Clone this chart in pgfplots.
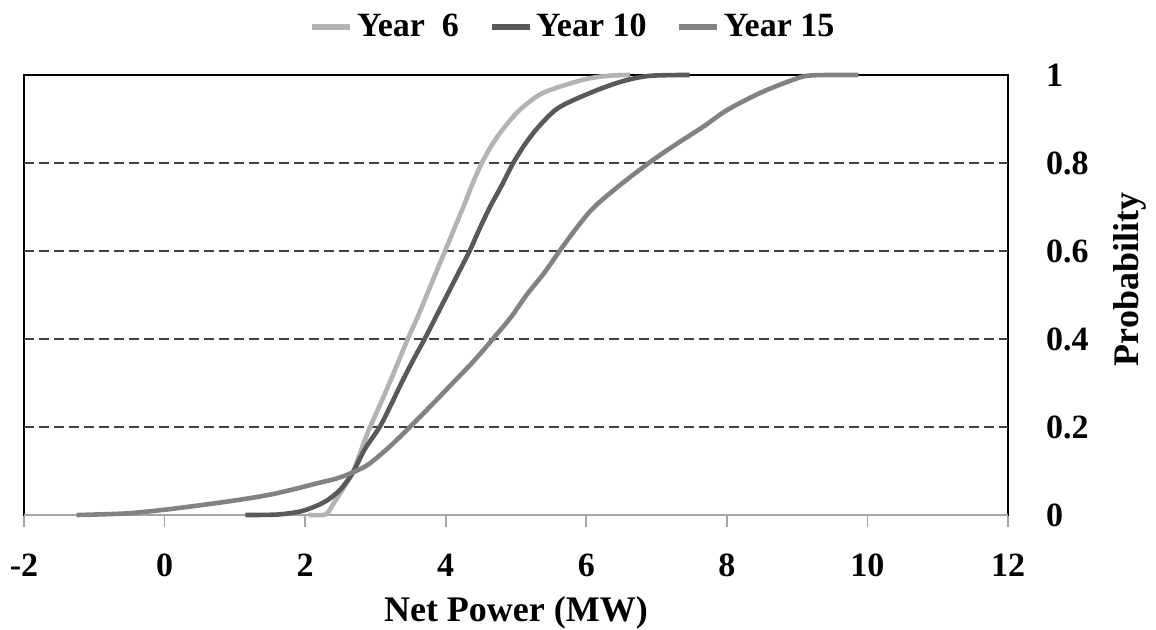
\documentclass[border=0pt]{standalone}
\usepackage{fontspec}
\setmainfont{Liberation Serif}
\usepackage{pgfplots}
\pgfplotsset{compat=1.18}
\definecolor{cY6}{HTML}{B3B3B3}
\definecolor{cY10}{HTML}{595959}
\definecolor{cY15}{HTML}{828282}
\definecolor{gridc}{HTML}{404040}
\begin{document}
\begin{tikzpicture}
\useasboundingbox (-12pt,-57.5pt) rectangle (566pt,257.5pt);
\begin{axis}[
  at={(0pt,0pt)}, anchor=south west,
  scale only axis, width=492pt, height=220pt,
  xmin=-2, xmax=12, ymin=0, ymax=1,
  clip=false,
  xtick={-2,0,2,4,6,8,10,12},
  xticklabels={-2,0,2,4,6,8,10,12},
  ytick={0,0.2,0.4,0.6,0.8,1},
  yticklabels={0,0.2,0.4,0.6,0.8,1},
  yticklabel pos=right,
  xtick pos=lower,
  tick align=outside,
  major tick length=6pt,
  xtick style={color=gray!70, line width=0.8pt},
  ytick style={draw=none},
  extra y ticks={0.2,0.4,0.6,0.8},
  extra y tick labels={},
  extra y tick style={grid=major, major grid style={color=gridc, line width=0.6pt, dash pattern=on 5pt off 2.5pt}, tick style={draw=none}},
  axis line style={line width=0.6pt, black},
  tick label style={font=\fontsize{17}{20}\selectfont\bfseries},
  xticklabel style={yshift=-10pt},
  yticklabel style={anchor=west, xshift=9.5pt},
  xlabel={Net Power (MW)},
  xlabel style={at={(rel axis cs:0.5,-0.223)}, anchor=center, font=\fontsize{18}{21}\selectfont\bfseries},
  ylabel={Probability},
  ylabel style={at={(rel axis cs:1.124,0.535)}, anchor=center, font=\fontsize{18}{21}\selectfont\bfseries},
  legend style={draw=none, fill=none, at={(0.559,1.109)}, anchor=center,
    font=\fontsize{17}{20}\selectfont\bfseries,
    /tikz/every even column/.append style={column sep=13pt}},
  legend columns=3,
  legend image code/.code={\draw[#1, line width=2.6pt] (0pt,0pt) -- (19pt,0pt);},
]
\draw[gray!70, line width=1pt] (axis cs:-2,0) -- (axis cs:12,0);
\addplot[cY6, line width=2.3pt, smooth] coordinates {
(2.05,0) (2.25,0.0) (2.32,0.005) (2.4,0.025) (2.5,0.05) (2.6,0.075) (2.68,0.097)
(2.78,0.14) (2.89,0.187) (3.05,0.245) (3.2,0.3) (3.33,0.35) (3.46,0.4) (3.6,0.45)
(3.73,0.5) (3.86,0.55) (3.99,0.6) (4.12,0.65) (4.25,0.7) (4.4,0.76) (4.53,0.805)
(4.68,0.847) (4.84,0.882) (5.05,0.92) (5.38,0.959) (5.95,0.989) (6.3,0.998) (6.62,1)
};
\addlegendentry{Year\ \ 6}
\addplot[cY10, line width=2.3pt, smooth] coordinates {
(1.15,0) (1.6,0.001) (1.93,0.008) (2.15,0.02) (2.31,0.033) (2.45,0.05) (2.54,0.065)
(2.68,0.097) (2.85,0.15) (3.06,0.2) (3.22,0.25) (3.37,0.3) (3.53,0.35) (3.70,0.4)
(3.86,0.45) (4.02,0.5) (4.18,0.55) (4.34,0.6) (4.48,0.65) (4.63,0.7) (4.8,0.75)
(4.96,0.8) (5.13,0.843) (5.32,0.882) (5.6,0.925) (6.05,0.959) (6.5,0.985) (6.9,0.998) (7.47,1)
};
\addlegendentry{Year 10}
\addplot[cY15, line width=2.3pt, smooth] coordinates {
(-1.25,0) (-1.0,0.001) (-0.5,0.004) (0,0.012) (0.5,0.022) (1.0,0.033) (1.46,0.045)
(1.8,0.057) (2.17,0.072) (2.45,0.083) (2.68,0.097) (2.9,0.115) (3.2,0.155) (3.49,0.2)
(3.8,0.25) (4.1,0.3) (4.4,0.35) (4.67,0.4) (4.93,0.45) (5.15,0.5) (5.4,0.55) (5.62,0.6)
(5.85,0.65) (6.07,0.693) (6.29,0.725) (6.6,0.765) (6.95,0.807) (7.3,0.845) (7.66,0.882)
(8.0,0.92) (8.47,0.959) (8.94,0.989) (9.2,0.999) (9.87,1)
};
\addlegendentry{Year 15}
\end{axis}
\end{tikzpicture}
\end{document}
